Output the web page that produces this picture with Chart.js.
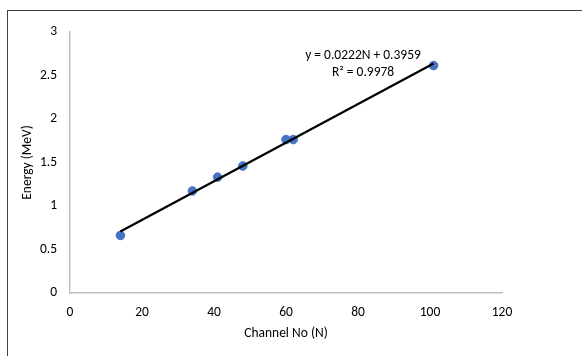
<!DOCTYPE html>
<html>
<head>
<meta charset="utf-8">
<script src="https://cdn.jsdelivr.net/npm/chart.js@4/dist/chart.umd.min.js"></script>
<style>
  html,body{margin:0;padding:0;background:#fff;overflow:hidden;}
  #wrap{position:relative;width:582px;height:356px;}
  #frame{position:absolute;left:7px;top:10px;width:600px;height:400px;border:1px solid #404040;box-sizing:border-box;pointer-events:none;}
  canvas{position:absolute;left:0;top:0;}
</style>
</head>
<body>
<div id="wrap">
<canvas id="c" width="582" height="356"></canvas>
<div id="frame"></div>
</div>
<script>
// Data
const channels = [14, 34, 41, 48, 60, 62, 101];
const energies = [0.662, 1.173, 1.332, 1.46, 1.764, 1.764, 2.614];
const trendX = [14, 101];
const trendY = [0.707, 2.638];
const xTicks = [0, 20, 40, 60, 80, 100, 120];
const yTicks = [0, 0.5, 1, 1.5, 2, 2.5, 3];
const yTickLabels = ["0", "0.5", "1", "1.5", "2", "2.5", "3"];
const equationLines = ["y = 0.0222N + 0.3959", "R² = 0.9978"];
const xTitle = "Channel No (N)";
const yTitle = "Energy (MeV)";

const FONT = "Carlito, Calibri, 'Open Sans', sans-serif";
const FS = 13.5;

const annotationPlugin = {
  id: 'eqText',
  afterDatasetsDraw(chart) {
    const {ctx, scales} = chart;
    const cx = scales.x.getPixelForValue(81.4);
    const y0 = scales.y.getPixelForValue(2.727);
    const y1 = scales.y.getPixelForValue(2.53);
    ctx.save();
    ctx.fillStyle = '#000';
    ctx.font = FS + "px " + FONT;
    ctx.textAlign = 'center';
    ctx.textBaseline = 'middle';
    ctx.fillText(equationLines[0], cx, y0);
    ctx.fillText(equationLines[1], cx, y1);
    ctx.restore();
  }
};

new Chart(document.getElementById('c'), {
  type: 'scatter',
  data: {
    datasets: [
      {
        type: 'line',
        data: trendX.map((x, i) => ({x, y: trendY[i]})),
        borderColor: '#000',
        borderWidth: 2.2,
        pointRadius: 0,
        fill: false,
        order: 0
      },
      {
        data: channels.map((x, i) => ({x, y: energies[i]})),
        backgroundColor: '#4472C4',
        borderColor: '#4472C4',
        pointRadius: 4.3,
        pointStyle: 'circle',
        order: 1
      }
    ]
  },
  options: {
    responsive: false,
    animation: false,
    devicePixelRatio: 1,
    layout: {padding: {left: 8, right: 80, top: 32, bottom: 0}},
    plugins: {legend: {display: false}, tooltip: {enabled: false}},
    scales: {
      x: {
        type: 'linear',
        min: 0, max: 120,
        afterBuildTicks: (s) => { s.ticks = xTicks.map(v => ({value: v})); },
        afterFit: (s) => { s.height = 63; },
        grid: {display: false, drawTicks: false},
        border: {display: true, color: '#BFBFBF', width: 1.5},
        ticks: {color: '#000', padding: 12, font: {family: FONT, size: FS}, maxRotation: 0},
        title: {display: true, text: xTitle, color: '#000', font: {family: FONT, size: FS}, padding: {top: 0, bottom: 14}}
      },
      y: {
        type: 'linear',
        min: 0, max: 3,
        afterBuildTicks: (s) => { s.ticks = yTicks.map(v => ({value: v})); },
        afterFit: (s) => { s.width = 62; },
        grid: {display: false, drawTicks: false},
        border: {display: true, color: '#BFBFBF', width: 1.5},
        ticks: {
          color: '#000', padding: 13, font: {family: FONT, size: FS},
          callback: (v) => { const i = yTicks.indexOf(v); return i >= 0 ? yTickLabels[i] : ''; }
        },
        title: {display: true, text: yTitle, color: '#000', font: {family: FONT, size: FS}, padding: {top: 12, bottom: 0}}
      }
    }
  },
  plugins: [annotationPlugin]
});
</script>
</body>
</html>
